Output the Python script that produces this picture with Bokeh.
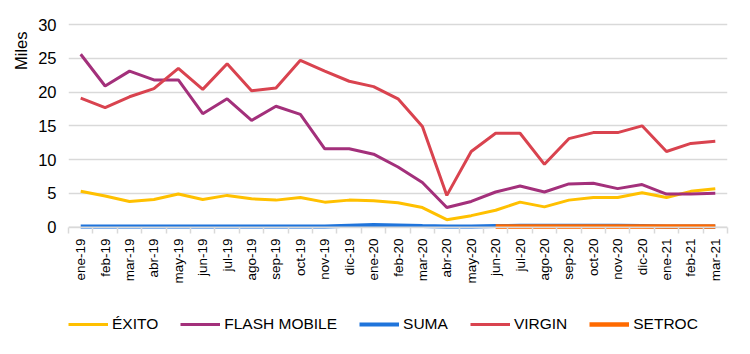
import math
from bokeh.plotting import figure
from bokeh.layouts import column
from bokeh.models import (ColumnDataSource, FixedTicker, Legend, LegendItem, Range1d, Span, Title)
from bokeh.embed import file_html
from bokeh.resources import INLINE

months = ["ene-19", "feb-19", "mar-19", "abr-19", "may-19", "jun-19", "jul-19", "ago-19", "sep-19",
          "oct-19", "nov-19", "dic-19", "ene-20", "feb-20", "mar-20", "abr-20", "may-20", "jun-20",
          "jul-20", "ago-20", "sep-20", "oct-20", "nov-20", "dic-20", "ene-21", "feb-21", "mar-21"]

exito = [5.3, 4.6, 3.8, 4.1, 4.9, 4.1, 4.7, 4.2, 4.0, 4.4, 3.7, 4.0, 3.9, 3.6, 2.9, 1.1, 1.7, 2.5,
         3.7, 3.0, 4.0, 4.4, 4.4, 5.1, 4.4, 5.3, 5.7]
flash_mobile = [25.6, 20.9, 23.1, 21.8, 21.8, 16.8, 19.0, 15.8, 17.9, 16.7, 11.6, 11.6, 10.8, 8.9,
                6.6, 2.9, 3.8, 5.2, 6.1, 5.2, 6.4, 6.5, 5.7, 6.3, 4.9, 4.9, 5.0]
suma = [0.1, 0.1, 0.1, 0.1, 0.1, 0.1, 0.1, 0.1, 0.1, 0.1, 0.1, 0.2, 0.3, 0.25, 0.15, 0.1, 0.1, 0.15,
        0.2, 0.2, 0.2, 0.2, 0.2, 0.15, 0.1, 0.1, 0.1]
virgin = [19.1, 17.7, 19.3, 20.5, 23.5, 20.4, 24.2, 20.2, 20.6, 24.7, 23.1, 21.6, 20.8, 19.0, 14.9,
          4.7, 11.2, 13.9, 13.9, 9.3, 13.1, 14.0, 14.0, 15.0, 11.2, 12.4, 12.7]
setroc_months = months[17:]
setroc = [0.1, 0.1, 0.1, 0.1, 0.1, 0.1, 0.1, 0.1, 0.1, 0.1]

y_ticks = [0, 5, 10, 15, 20, 25, 30]

FONT = "Liberation Sans"
idx = {m: i for i, m in enumerate(months)}

p = figure(width=750, height=300, output_backend="svg", toolbar_location=None,
           x_range=Range1d(-0.5, len(months) - 0.5), y_range=Range1d(-0.35, 30.3),
           min_border_left=68, min_border_right=23, min_border_top=22, min_border_bottom=71)
p.outline_line_color = None

series = [
    ("ÉXITO", months, exito, "#FFC000", 3),
    ("FLASH MOBILE", months, flash_mobile, "#A3307B", 3),
    ("SUMA", months, suma, "#1F74DB", 4),
    ("VIRGIN", months, virgin, "#D9434F", 3),
    ("SETROC", setroc_months, setroc, "#FF6A00", 4.5),
]

p.add_layout(Span(location=0, dimension="width", line_color="#D9D9D9", line_width=1.5), "center")
sources = []
for name, ms, vals, color, w in series:
    src = ColumnDataSource(dict(x=[idx[m] for m in ms], y=vals))
    sources.append(src)
    p.line("x", "y", source=src, line_color=color, line_width=w)

# axes
xa = p.xaxis[0]
centers = list(range(len(months)))
xa.ticker = FixedTicker(ticks=centers, minor_ticks=[i - 0.5 for i in range(len(months) + 1)])
xa.major_label_overrides = {i: m for i, m in enumerate(months)}
xa.major_label_orientation = math.pi / 2
xa.major_tick_line_color = None
xa.minor_tick_line_color = "#D9D9D9"
xa.minor_tick_line_width = 1.5
xa.minor_tick_in = 2
xa.minor_tick_out = 4
xa.axis_line_color = None
xa.major_label_standoff = 3
xa.major_label_text_font = FONT
xa.major_label_text_font_size = "13.5px"
xa.major_label_text_color = "#000000"

ya = p.yaxis[0]
ya.ticker = FixedTicker(ticks=y_ticks)
ya.axis_line_color = None
ya.major_tick_line_color = None
ya.minor_tick_line_color = None
ya.major_tick_out = 0
ya.major_label_standoff = 12
ya.major_label_text_font = FONT
ya.major_label_text_font_size = "16.5px"
ya.major_label_text_color = "#000000"

p.xgrid.grid_line_color = None
p.ygrid.grid_line_color = "#D9D9D9"
p.ygrid.grid_line_width = 1.5

p.add_layout(Title(text="Miles", align="right", offset=9, standoff=12,
                   text_font=FONT, text_font_size="16.5px", text_font_style="normal",
                   text_color="#000000"), "left")

# legend strip (its renderers reuse the data, kept out of view)
lg = figure(width=750, height=54, output_backend="svg", toolbar_location=None,
            x_axis_type=None, y_axis_type=None, x_range=Range1d(0, 1), y_range=Range1d(1000, 1001),
            min_border_left=0, min_border_right=0, min_border_top=0, min_border_bottom=0)
lg.outline_line_color = None
lg.xgrid.grid_line_color = None
lg.ygrid.grid_line_color = None
items = []
for (name, ms, vals, color, w), src in zip(series, sources):
    r = lg.line("x", "y", source=src, line_color=color, line_width=w)
    items.append(LegendItem(label=name, renderers=[r]))
legend = Legend(items=items, orientation="horizontal", location=(0, 20),
                glyph_width=40, glyph_height=20, label_standoff=4, spacing=22,
                padding=0, margin=0, border_line_color=None, background_fill_alpha=0,
                label_text_font=FONT, label_text_font_size="15.5px", label_text_color="#000000")
lg.add_layout(legend, "center")

open("out.html", "w").write(file_html(column(p, lg, spacing=0), INLINE))
